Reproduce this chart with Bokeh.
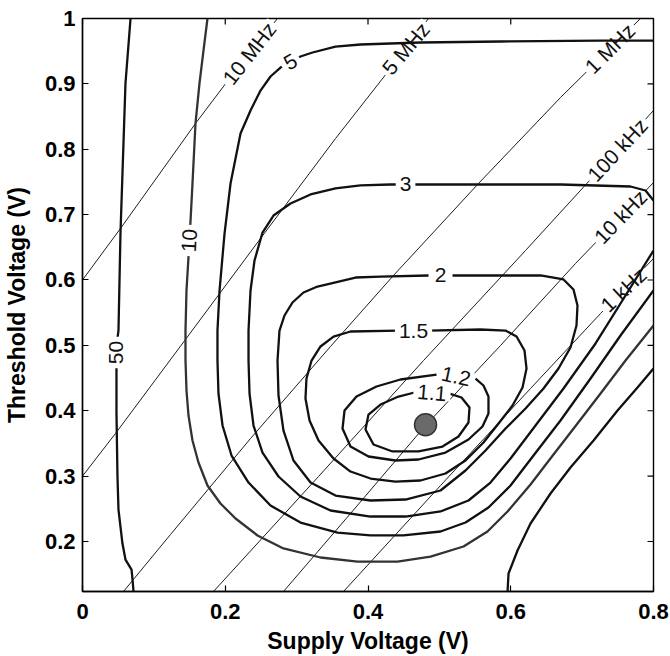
import math
from bokeh.plotting import figure
from bokeh.models import Range1d, FixedTicker, Label
from bokeh.embed import file_html
from bokeh.resources import INLINE

# ---------------- axes ----------------
x_ticks = [0, 0.2, 0.4, 0.6, 0.8]
x_tick_labels = ["0", "0.2", "0.4", "0.6", "0.8"]
y_ticks = [0.2, 0.3, 0.4, 0.5, 0.6, 0.7, 0.8, 0.9, 1.0]
y_tick_labels = ["0.2", "0.3", "0.4", "0.5", "0.6", "0.7", "0.8", "0.9", "1"]
x_min, x_max = 0.0, 0.8
y_min, y_max = 0.1235, 1.0

# ---------------- normalized-energy contours (Supply V, Threshold V) ----------------
e50_x = [0.0673, 0.0602, 0.0532, 0.0504, 0.0476, 0.0476, 0.0490, 0.0504, 0.0560, 0.0602, 0.0687, 0.0701, 0.0715]
e50_y = [1.000, 0.9006, 0.6711, 0.5227, 0.4998, 0.3973, 0.2994, 0.2489, 0.1969, 0.1724, 0.1571, 0.1418, 0.1235]

e50r_x = [0.5955, 0.5969, 0.6095, 0.6277, 0.6557, 0.6837, 0.7160, 0.7496, 0.7776, 0.8]
e50r_y = [0.1235, 0.1510, 0.1862, 0.2275, 0.2734, 0.3132, 0.3545, 0.4003, 0.4355, 0.4646]

e10_x = [0.1751, 0.1695, 0.1639, 0.1583, 0.1541, 0.1499, 0.1457, 0.1443, 0.1443, 0.1457,
         0.1485, 0.1541, 0.1625, 0.1751, 0.1933, 0.2144, 0.2452, 0.2816, 0.3335, 0.3853,
         0.4413, 0.4876, 0.5338, 0.5674, 0.5955, 0.6277, 0.6599, 0.6935, 0.7258, 0.7608, 0.8]
e10_y = [1.0, 0.9510, 0.9006, 0.8394, 0.7476, 0.6604, 0.5839, 0.5227, 0.4768, 0.4309,
         0.3927, 0.3545, 0.3208, 0.2856, 0.2581, 0.2352, 0.2092, 0.1893, 0.1755, 0.1693,
         0.1693, 0.1770, 0.1923, 0.2153, 0.2459, 0.2871, 0.3331, 0.3805, 0.4264, 0.4769, 0.5304]

e5_x = [0.8, 0.7258, 0.5857, 0.4736, 0.3895, 0.3545, 0.3223, 0.3054, 0.2774, 0.2634,
        0.2494, 0.2354, 0.2214, 0.2074, 0.1990, 0.1920, 0.1891, 0.1891, 0.1905, 0.1962,
        0.2088, 0.2326, 0.2634, 0.3054, 0.3573, 0.4035, 0.4497, 0.5016, 0.5366, 0.5688,
        0.5997, 0.6319, 0.6697, 0.7118, 0.7538, 0.8]
e5_y = [0.9663, 0.9663, 0.9648, 0.9633, 0.9602, 0.9571, 0.9480, 0.9419, 0.9250, 0.9113,
        0.8898, 0.8593, 0.8241, 0.7476, 0.6711, 0.5839, 0.5227, 0.4768, 0.4264, 0.3774,
        0.3315, 0.2902, 0.2550, 0.2290, 0.2137, 0.2092, 0.2092, 0.2153, 0.2290, 0.2520,
        0.2856, 0.3315, 0.3851, 0.4493, 0.5151, 0.5839]

e3_x = [0.8, 0.7888, 0.7678, 0.6697, 0.5576, 0.4736, 0.4315, 0.3895, 0.3545, 0.3195,
        0.2914, 0.2676, 0.2522, 0.2410, 0.2354, 0.2326, 0.2326, 0.2340, 0.2396, 0.2522,
        0.2746, 0.3054, 0.3475, 0.4035, 0.4526, 0.5016, 0.5408, 0.5716, 0.5997, 0.6347,
        0.6739, 0.7188, 0.7608, 0.8]
e3_y = [0.7216, 0.7369, 0.7430, 0.7461, 0.7461, 0.7461, 0.7461, 0.7446, 0.7400, 0.7308,
        0.7170, 0.6986, 0.6726, 0.6298, 0.5839, 0.5227, 0.4768, 0.4264, 0.3774, 0.3361,
        0.2994, 0.2688, 0.2474, 0.2382, 0.2382, 0.2459, 0.2627, 0.2902, 0.3269, 0.3774,
        0.4340, 0.5029, 0.5763, 0.6451]

e2_x = [0.5184, 0.5857, 0.6417, 0.6739, 0.6879, 0.6935, 0.6921, 0.6837, 0.6669, 0.6459,
        0.6207, 0.5927, 0.5646, 0.5366, 0.5016, 0.4526, 0.4035, 0.3545, 0.3195, 0.2956,
        0.2816, 0.2746, 0.2732, 0.2760, 0.2830, 0.2942, 0.3096, 0.3293, 0.3545, 0.3825,
        0.4175, 0.4848]
e2_y = [0.6069, 0.6069, 0.6069, 0.6008, 0.5854, 0.5609, 0.5304, 0.4967, 0.4646, 0.4340,
        0.4034, 0.3728, 0.3392, 0.3086, 0.2780, 0.2642, 0.2627, 0.2703, 0.2902, 0.3239,
        0.3697, 0.4233, 0.4768, 0.5227, 0.5457, 0.5656, 0.5809, 0.5900, 0.5962, 0.6038,
        0.6053, 0.6069]

e15_x = [0.4848, 0.5576, 0.5927, 0.6081, 0.6193, 0.6221, 0.6165, 0.6025, 0.5829, 0.5618,
         0.5366, 0.5086, 0.4736, 0.4385, 0.4035, 0.3755, 0.3517, 0.3307, 0.3181, 0.3124,
         0.3138, 0.3209, 0.3335, 0.3517, 0.3755, 0.4427]
e15_y = [0.5227, 0.5243, 0.5227, 0.5135, 0.4921, 0.4646, 0.4355, 0.4080, 0.3805, 0.3514,
         0.3239, 0.3040, 0.2933, 0.2917, 0.2963, 0.3070, 0.3269, 0.3545, 0.3851, 0.4187,
         0.4493, 0.4768, 0.4983, 0.5135, 0.5212, 0.5227]

e12_x = [0.5506, 0.5618, 0.5688, 0.5688, 0.5604, 0.5408, 0.5086, 0.4708, 0.4385, 0.4007,
         0.3755, 0.3643, 0.3671, 0.3839, 0.4119, 0.4455, 0.4960]
e12_y = [0.4493, 0.4386, 0.4217, 0.3957, 0.3759, 0.3560, 0.3361, 0.3254, 0.3239, 0.3300,
         0.3453, 0.3728, 0.4003, 0.4217, 0.4371, 0.4478, 0.4554]

e11_x = [0.5142, 0.5310, 0.5422, 0.5408, 0.5268, 0.5044, 0.4708, 0.4343, 0.4077, 0.3965,
         0.4007, 0.4175, 0.4427, 0.4652]
e11_y = [0.4263, 0.4203, 0.4049, 0.3820, 0.3606, 0.3453, 0.3377, 0.3377, 0.3484, 0.3713,
         0.3942, 0.4095, 0.4217, 0.4279]

# ---------------- constant-frequency lines ----------------
f10M_x = [0.0, 0.0532, 0.1583, 0.2144, 0.2732]
f10M_y = [0.6, 0.6788, 0.8394, 0.9204, 1.0]
f5M_x = [0.0, 0.0462, 0.1443, 0.2494, 0.3545, 0.4315, 0.4848]
f5M_y = [0.3, 0.3652, 0.5090, 0.6635, 0.8164, 0.9235, 1.0]
f1M_x = [0.0574, 0.1233, 0.2354, 0.3475, 0.4357, 0.5548, 0.6697, 0.7818]
f1M_y = [0.1235, 0.2107, 0.3575, 0.4983, 0.6069, 0.7476, 0.8791, 1.0]
f100k_x = [0.1835, 0.3307, 0.4778, 0.6207, 0.7258, 0.8]
f100k_y = [0.1235, 0.2994, 0.4768, 0.6451, 0.7705, 0.8593]
f10k_x = [0.2816, 0.3755, 0.4806, 0.5857, 0.6907, 0.8]
f10k_y = [0.1235, 0.2428, 0.3774, 0.4998, 0.6252, 0.7491]
f1k_x = [0.3657, 0.5016, 0.6277, 0.7258, 0.8]
f1k_y = [0.1235, 0.2856, 0.4340, 0.5487, 0.6329]

# minimum-energy point
opt_x = [0.4806]
opt_y = [0.3785]

# ---------------- labels ----------------
freq_text = ["10 MHz", "5 MHz", "1 MHz", "100 kHz", "10 kHz", "1 kHz"]
freq_lx = [0.2337, 0.4528, 0.7390, 0.7496, 0.7538, 0.7580]
freq_ly = [0.9465, 0.9541, 0.9540, 0.7990, 0.6967, 0.5852]
freq_ang = [52, 50, 45, 47, 46, 43]

cont_text = ["50", "10", "5", "3", "2", "1.5", "1.2", "1.1"]
cont_lx = [0.0476, 0.1499, 0.2914, 0.4526, 0.5016, 0.4638, 0.5233, 0.4897]
cont_ly = [0.4891, 0.6604, 0.9335, 0.7461, 0.6069, 0.5227, 0.4524, 0.4271]
cont_ang = [90, 87, 30, 0, 0, 0, -12, -5]

FONT = "Liberation Sans"
LABEL_PX = 21
CW = {'0': .556, '1': .556, '2': .556, '3': .556, '5': .556, '.': .278, ' ': .278,
      'M': .833, 'H': .722, 'z': .5, 'k': .5}


def text_w(s):
    return sum(CW.get(c, .6) for c in s) * LABEL_PX


p = figure(width=670, height=656, output_backend="svg", toolbar_location=None,
           x_range=Range1d(x_min, x_max), y_range=Range1d(y_min, y_max),
           min_border_left=82, min_border_right=17, min_border_top=18, min_border_bottom=65)
p.xgrid.visible = False
p.ygrid.visible = False
p.background_fill_color = "white"
p.border_fill_color = "white"
p.outline_line_color = "black"
p.outline_line_width = 1.4

p.xaxis.ticker = FixedTicker(ticks=x_ticks)
p.xaxis.major_label_overrides = {t: s for t, s in zip(x_ticks, x_tick_labels)}
p.yaxis.ticker = FixedTicker(ticks=y_ticks)
p.yaxis.major_label_overrides = {t: s for t, s in zip(y_ticks, y_tick_labels)}
p.xaxis.axis_label = "Supply Voltage (V)"
p.yaxis.axis_label = "Threshold Voltage (V)"
for ax in [p.xaxis[0], p.yaxis[0]]:
    ax.major_tick_in = 6
    ax.major_tick_out = 0
    ax.minor_tick_line_color = None
    ax.axis_line_width = 1.4
    ax.major_tick_line_width = 1.2
    ax.major_label_text_font = FONT
    ax.major_label_text_font_style = "bold"
    ax.major_label_text_font_size = "22px"
    ax.major_label_text_color = "black"
    ax.axis_label_text_font = FONT
    ax.axis_label_text_font_style = "bold"
    ax.axis_label_text_font_size = "23px"
    ax.axis_label_text_color = "black"
p.xaxis.major_label_standoff = 12
p.yaxis.major_label_standoff = 7
p.xaxis.axis_label_standoff = 6
p.yaxis.axis_label_standoff = 12

# inward ticks on the top and right frame edges
p.ray(x=x_ticks, y=[y_max] * len(x_ticks), length=6, length_units="screen",
      angle=-math.pi / 2, line_color="black", line_width=1.2)
p.ray(x=[x_max] * len(y_ticks), y=y_ticks, length=6, length_units="screen",
      angle=math.pi, line_color="black", line_width=1.2)

# frequency lines
for fx, fy in [(f10M_x, f10M_y), (f5M_x, f5M_y), (f1M_x, f1M_y),
               (f100k_x, f100k_y), (f10k_x, f10k_y), (f1k_x, f1k_y)]:
    p.line(fx, fy, line_color="#1e1e1e", line_width=1.0)
p.rect(x=freq_lx, y=freq_ly, width=[text_w(t) + 6 for t in freq_text], height=15,
       width_units="screen", height_units="screen",
       angle=[math.radians(a) for a in freq_ang], fill_color="white", line_color=None)

# energy contours
for cx, cy, col in [(e50_x, e50_y, "#111111"), (e50r_x, e50r_y, "#111111"),
                    (e10_x, e10_y, "#333333"), (e5_x, e5_y, "#111111"),
                    (e3_x, e3_y, "#111111"), (e2_x, e2_y, "#111111"),
                    (e15_x, e15_y, "#111111"), (e12_x, e12_y, "#111111"),
                    (e11_x, e11_y, "#111111")]:
    p.line(cx, cy, line_color=col, line_width=2.3, line_join="round")
p.rect(x=cont_lx, y=cont_ly, width=[text_w(t) + 8 for t in cont_text], height=14,
       width_units="screen", height_units="screen",
       angle=[math.radians(a) for a in cont_ang], fill_color="white", line_color=None)

p.scatter(opt_x, opt_y, size=22, fill_color="#6a6a6a", line_color="#333333", line_width=1.5)

for t, x, y, a in list(zip(freq_text, freq_lx, freq_ly, freq_ang)) + \
        list(zip(cont_text, cont_lx, cont_ly, cont_ang)):
    p.add_layout(Label(x=x, y=y, text=t, angle=math.radians(a), text_align="center",
                       text_baseline="middle", text_font=FONT, text_font_size=f"{LABEL_PX}px",
                       text_color="#111111"))

open("out.html", "w").write(file_html(p, INLINE))
